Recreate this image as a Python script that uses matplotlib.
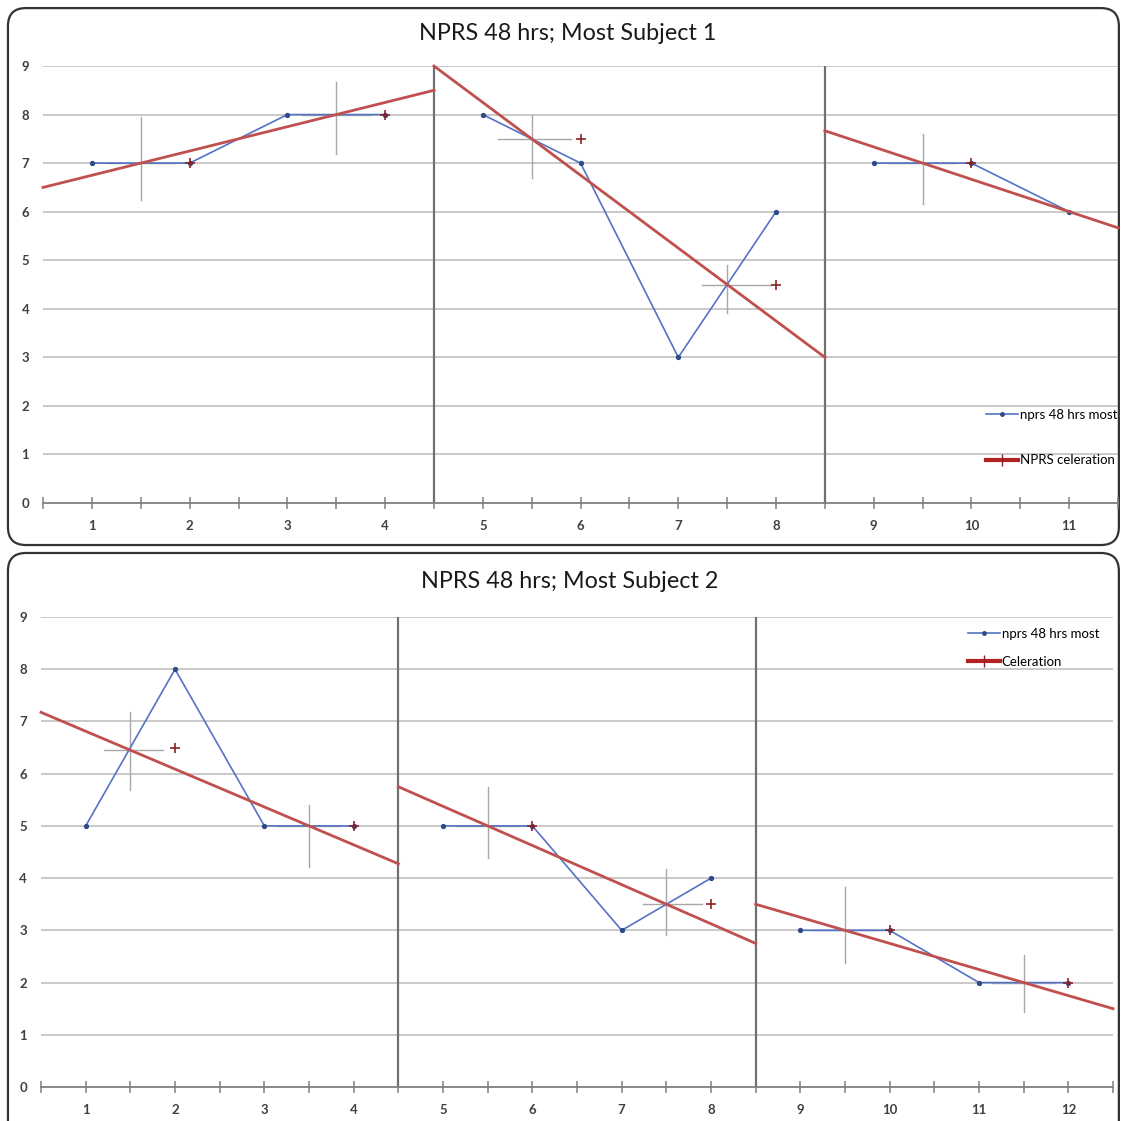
import matplotlib
matplotlib.use('Agg')
import matplotlib.pyplot as plt
from matplotlib.patches import FancyBboxPatch
from matplotlib.lines import Line2D
import numpy as np

plt.rcParams['font.family'] = ['Lato', 'DejaVu Sans']

# Subject 1 data
s1_sessions = list(range(1, 12))
s1_scores = [7, 7, 8, 8, 8, 7, 3, 6, 7, 7, 6]
s1_breaks = [4.5, 8.5]
s1_cel_x = [[1.5, 3.5], [5.5, 7.5], [9.5, 11]]
s1_cel_y = [[7, 8], [7.5, 4.5], [7, 6]]
s1_cross_x = [1.5, 3.5, 5.5, 7.5, 9.5]
s1_cross_y = [7, 8, 7.5, 4.5, 7]
s1_cross_ylo = [6.25, 7.18, 6.70, 3.92, 6.16]
s1_cross_yhi = [7.94, 8.68, 8.0, 4.91, 7.59]
s1_cross_xlo = [1.15, 3.15, 5.16, 7.24, 9.15]
s1_cross_xhi = [1.85, 3.85, 5.9, 7.95, 9.85]
s1_plus_x = [2, 4, 6, 8, 10]
s1_plus_y = [7, 8, 7.5, 4.5, 7]

# Subject 2 data
s2_sessions = list(range(1, 13))
s2_scores = [5, 8, 5, 5, 5, 5, 3, 4, 3, 3, 2, 2]
s2_breaks = [4.5, 8.5]
s2_cel_x = [[1.5, 3.5], [5.5, 7.5], [9.5, 11.5]]
s2_cel_y = [[6.45, 5.0], [5, 3.5], [3, 2]]
s2_cross_x = [1.5, 3.5, 5.5, 7.5, 9.5, 11.5]
s2_cross_y = [6.45, 5, 5, 3.5, 3, 2]
s2_cross_ylo = [5.69, 4.21, 4.39, 2.91, 2.38, 1.44]
s2_cross_yhi = [7.18, 5.4, 5.75, 4.18, 3.83, 2.53]
s2_cross_xlo = [1.21, 3.15, 5.15, 7.24, 9.15, 11.15]
s2_cross_xhi = [1.86, 3.85, 5.85, 7.9, 9.85, 11.85]
s2_plus_x = [2, 4, 6, 8, 10, 12]
s2_plus_y = [6.5, 5, 5, 3.5, 3, 2]

BLUE = '#5573C4'
RED = '#C0504D'
DARKRED = '#8B2323'
GRAY = '#A8A8A8'


def draw_panel(ax, sessions, scores, breaks, cel_x, cel_y, cx, cy, cylo, cyhi, cxlo, cxhi,
               px, py, cel_label, legend_anchor, legend_spacing):
    n = len(sessions)
    ax.set_xlim(0.5, n + 0.5)
    ax.set_ylim(0, 9)
    for v in range(1, 10):
        ax.axhline(v, color='#BBBBBB', lw=1.1, zorder=0)

    edges = [0.5] + breaks + [n + 0.5]
    sessions = np.array(sessions)
    scores = np.array(scores)
    for i in range(len(edges) - 1):
        m = (sessions > edges[i]) & (sessions < edges[i + 1])
        ax.plot(sessions[m], scores[m], color=BLUE, lw=1.2, marker='o', ms=2.8,
                mfc='#2F4A8A', mec='#2F4A8A', zorder=3)
        # celeration line through the two split-middle points, over the phase
        (x1, x2), (y1, y2) = cel_x[i], cel_y[i]
        slope = (y2 - y1) / (x2 - x1)
        xs = np.array([edges[i], edges[i + 1]])
        ax.plot(xs, y1 + slope * (xs - x1), color=RED, lw=2, zorder=4, clip_on=False)

    for b in breaks:
        ax.vlines(b, 0, 9, color='#707070', lw=1.6, zorder=2)

    for x, y, lo, hi, xl, xh in zip(cx, cy, cylo, cyhi, cxlo, cxhi):
        ax.plot([x, x], [lo, hi], color=GRAY, lw=1, zorder=1)
        ax.plot([xl, xh], [y, y], color=GRAY, lw=1, zorder=1)
    ax.plot(px, py, ls='none', marker='+', ms=7, mew=1.2, color=DARKRED, zorder=5)

    for s in ['top', 'right', 'left']:
        ax.spines[s].set_visible(False)
    ax.spines['bottom'].set_color('#808080')
    ax.spines['bottom'].set_linewidth(1.3)
    ax.set_xticks(list(range(1, n + 1)))
    ax.set_xticks(np.arange(0.5, n + 1, 1.0), minor=True)
    ax.tick_params(axis='x', which='both', direction='inout', length=8, color='#808080',
                   width=1.1, pad=8, labelsize=9.5, labelcolor='#404040')
    ax.set_yticks(range(0, 10))
    ax.tick_params(axis='y', length=0, pad=10, labelsize=9.5, labelcolor='#404040')
    for lab in ax.get_xticklabels() + ax.get_yticklabels():
        lab.set_fontweight('bold')

    handles = [
        Line2D([], [], color=BLUE, lw=1.2, marker='o', ms=2.5, mfc='#2F4A8A', mec='#2F4A8A'),
        Line2D([], [], color='#B22222', lw=3, marker='|', ms=8, mew=1, mec=DARKRED),
    ]
    ax.legend(handles, ['nprs 48 hrs most', cel_label], loc='upper right',
              bbox_to_anchor=legend_anchor, frameon=False, fontsize=9.5,
              handlelength=2.4, handletextpad=0.15, labelspacing=legend_spacing,
              borderaxespad=0)


fig = plt.figure(figsize=(11.21, 11.21), dpi=100)

fig.patches.append(FancyBboxPatch((0.0071, 0.5138), 0.991, 0.479,
                                  boxstyle='round,pad=0,rounding_size=0.016',
                                  transform=fig.transFigure, fc='white', ec='#333333',
                                  lw=1.6, zorder=-1))
fig.patches.append(FancyBboxPatch((0.0071, -0.03), 0.991, 0.5367,
                                  boxstyle='round,pad=0,rounding_size=0.016',
                                  transform=fig.transFigure, fc='white', ec='#333333',
                                  lw=1.6, zorder=-1))

ax1 = fig.add_axes([0.0384, 0.5513, 0.959, 0.3898])
ax1.patch.set_alpha(0)
draw_panel(ax1, s1_sessions, s1_scores, s1_breaks, s1_cel_x, s1_cel_y,
           s1_cross_x, s1_cross_y, s1_cross_ylo, s1_cross_yhi, s1_cross_xlo, s1_cross_xhi,
           s1_plus_x, s1_plus_y, 'NPRS celeration', (1.004, 0.228), 2.55)

ax2 = fig.add_axes([0.0366, 0.0303, 0.9563, 0.4193])
ax2.patch.set_alpha(0)
draw_panel(ax2, s2_sessions, s2_scores, s2_breaks, s2_cel_x, s2_cel_y,
           s2_cross_x, s2_cross_y, s2_cross_ylo, s2_cross_yhi, s2_cross_xlo, s2_cross_xhi,
           s2_plus_x, s2_plus_y, 'Celeration', (0.992, 0.988), 1.2)

fig.text(568 / 1121, 1 - 34 / 1121, 'NPRS 48 hrs; Most Subject 1', ha='center', va='center',
         fontsize=16.8, color='#1A1A1A')
fig.text(570 / 1121, 1 - 581 / 1121, 'NPRS 48 hrs; Most Subject 2', ha='center', va='center',
         fontsize=16.8, color='#1A1A1A')

fig.savefig('out.png', dpi=100)
